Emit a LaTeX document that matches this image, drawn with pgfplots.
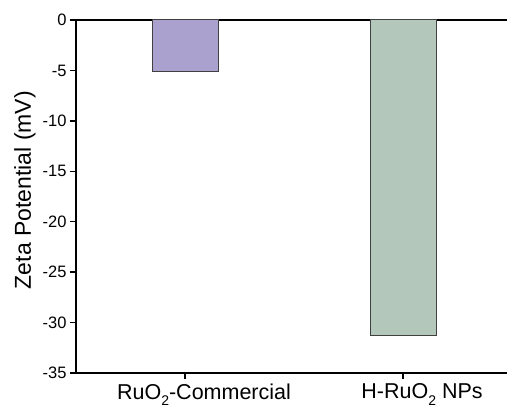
\documentclass[border=0pt]{standalone}
\usepackage{pgfplots}
\pgfplotsset{compat=1.18}
\usepackage{fontspec}
\setmainfont{Liberation Sans}
\usetikzlibrary{calc}
\definecolor{barpurple}{RGB}{170,161,206}
\definecolor{bargreen}{RGB}{179,200,186}
\newcommand{\lowsub}[1]{\raisebox{-0.32em}{\fontsize{14bp}{15bp}\selectfont #1}}
\begin{document}
\begin{tikzpicture}
\begin{axis}[
  name=ax,
  scale only axis,
  width=431bp, height=353bp,
  xmin=-0.5, xmax=1.477,
  ymin=-35, ymax=0,
  axis x line*=box,
  axis y line*=left,
  axis line style={line width=1.6bp, black},
  ytick={-35,-30,-25,-20,-15,-10,-5,0},
  yticklabels={-35,-30,-25,-20,-15,-10,-5,0},
  xtick={0,1},
  xticklabels={RuO\lowsub{2}-Commercial, H-RuO\lowsub{2} NPs},
  tick align=outside,
  tick pos=left,
  major tick length=6bp,
  major tick style={line width=1.3bp, black},
  minor tick num=0,
  yticklabel style={font=\fontsize{16.5bp}{18bp}\selectfont},
  xticklabel style={font=\fontsize{21.5bp}{24bp}\selectfont, xshift=19bp, yshift=-1bp},
  ylabel={Zeta Potential (mV)},
  every axis y label/.style={at={(axis description cs:-0.1183,0.518)}, rotate=90, anchor=center, font=\fontsize{23bp}{26bp}\selectfont},
  ybar, bar width=66bp,
  clip=false,
]
\addplot[ybar, bar shift=0pt, fill=barpurple, draw=black!75, line width=1bp] coordinates {(0,-5.1)};
\addplot[ybar, bar shift=0pt, fill=bargreen, draw=black!75, line width=1bp] coordinates {(1,-31.3)};
\end{axis}
\pgfresetboundingbox
\path[use as bounding box] ($(ax.south west)+(-76bp,-37bp)$) rectangle ($(ax.north east)+(0,20bp)$);
\end{tikzpicture}
\end{document}
